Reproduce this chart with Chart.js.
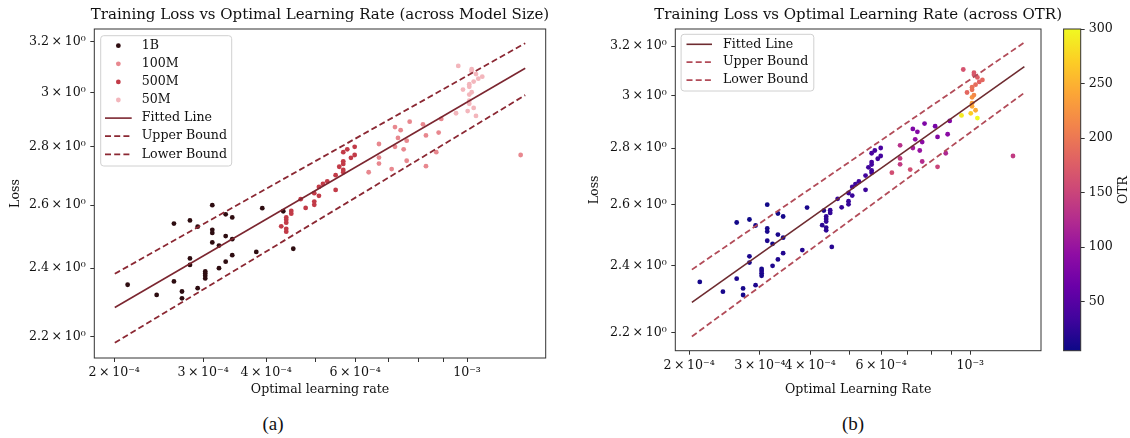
<!DOCTYPE html>
<html>
<head>
<meta charset="utf-8">
<script src="https://cdn.jsdelivr.net/npm/chart.js@4.4.0/dist/chart.umd.min.js"></script>
<style>
  body { margin: 0; background: #fff; }
  #wrap { position: relative; width: 1130px; height: 438px; overflow: hidden; }
  canvas { position: absolute; top: 0; }
  #lossBySize { left: 0; }
  #lossByOtr { left: 560px; }
  #otrBar { left: 1045px; }
  .caption { position: absolute; top: 413px; width: 60px; text-align: center;
             font-family: "Liberation Serif", serif; font-size: 19px; color: #111; }
</style>
</head>
<body>
<div id="wrap">
  <canvas id="lossBySize" width="560" height="400"></canvas>
  <canvas id="lossByOtr" width="570" height="400"></canvas>
  <canvas id="otrBar" width="85" height="400"></canvas>
  <div class="caption" style="left:243px">(a)</div>
  <div class="caption" style="left:823px">(b)</div>
</div>
<script>
// runs grouped by model size: optimal learning rate, final loss, OTR
const lr1B = [2.126e-4, 2.427e-4, 2.626e-4, 2.626e-4, 2.724e-4, 2.724e-4, 2.825e-4, 2.825e-4, 2.825e-4,
  2.926e-4, 2.926e-4, 3.029e-4, 3.029e-4, 3.029e-4, 3.029e-4, 3.128e-4, 3.128e-4, 3.128e-4, 3.128e-4,
  3.225e-4, 3.225e-4, 3.325e-4, 3.325e-4, 3.325e-4, 3.426e-4, 3.426e-4, 3.426e-4, 3.823e-4, 3.929e-4,
  4.324e-4, 4.526e-4];
const loss1B = [2.35, 2.32, 2.54, 2.36, 2.33, 2.31, 2.55, 2.43, 2.41,
  2.53, 2.34, 2.39, 2.384, 2.377, 2.369, 2.60, 2.52, 2.51, 2.48,
  2.47, 2.40, 2.57, 2.50, 2.42, 2.56, 2.49, 2.44, 2.45, 2.59,
  2.58, 2.46];
const otr1B = [10, 12, 8, 14, 11, 9, 5, 13, 12,
  10, 15, 12, 14, 16, 11, 7, 10, 12, 14,
  9, 15, 8, 13, 16, 10, 14, 17, 18, 12,
  15, 20];

const lr500M = [4.284e-4, 4.383e-4, 4.383e-4, 4.383e-4, 4.383e-4, 4.383e-4, 4.485e-4, 4.485e-4,
  4.681e-4, 4.789e-4, 4.981e-4, 4.981e-4, 4.981e-4, 5.088e-4, 5.088e-4, 5.182e-4, 5.285e-4,
  5.491e-4, 5.491e-4, 5.582e-4, 5.685e-4, 5.685e-4, 5.685e-4, 5.685e-4, 5.685e-4, 5.790e-4,
  5.888e-4, 5.989e-4, 5.989e-4];
const loss500M = [2.531, 2.560, 2.552, 2.543, 2.523, 2.514, 2.581, 2.572,
  2.620, 2.591, 2.640, 2.612, 2.601, 2.661, 2.631, 2.671, 2.680,
  2.701, 2.651, 2.730, 2.749, 2.740, 2.719, 2.711, 2.781, 2.791,
  2.761, 2.800, 2.771];
const otr500M = [22, 25, 24, 26, 22, 23, 28, 26,
  30, 27, 32, 29, 28, 34, 30, 33, 35,
  36, 31, 34, 38, 36, 33, 32, 40, 38,
  35, 40, 37];

const lr100M = [6.384e-4, 6.691e-4, 6.691e-4, 6.691e-4, 7.090e-4, 7.198e-4, 7.198e-4, 7.297e-4,
  7.387e-4, 7.489e-4, 7.593e-4, 7.593e-4, 7.697e-4, 8.178e-4, 8.291e-4, 8.291e-4, 8.690e-4,
  8.785e-4, 8.890e-4, 1.277e-3];
const loss100M = [2.711, 2.810, 2.762, 2.741, 2.722, 2.871, 2.800, 2.832,
  2.860, 2.791, 2.822, 2.751, 2.891, 2.881, 2.841, 2.732, 2.781,
  2.851, 2.901, 2.771];
const otr100M = [160, 130, 140, 140, 160, 80, 110, 95,
  85, 100, 90, 125, 80, 75, 85, 150, 120,
  90, 85, 140];

const lr50M = [9.51e-4, 9.607e-4, 9.816e-4, 1.0028e-3, 1.0102e-3, 1.0102e-3, 1.0102e-3, 1.0102e-3,
  1.0102e-3, 1.0213e-3, 1.0213e-3, 1.0213e-3, 1.0307e-3, 1.0307e-3, 1.0416e-3, 1.0416e-3,
  1.0526e-3, 1.0719e-3];
const loss50M = [2.922, 3.103, 3.011, 2.930, 3.032, 3.022, 2.992, 2.969,
  2.957, 3.090, 3.082, 3.001, 3.042, 2.942, 3.071, 2.912,
  3.053, 3.061];
const otr50M = [290, 165, 185, 270, 195, 195, 225, 235,
  240, 170, 170, 215, 190, 245, 175, 300,
  180, 185];

// fitted power law and +/-0.1 band, end points of each line
const fitLrA = [2.005e-4, 1.304e-3];
const fitLossA = [2.283, 3.094];
const upperLossA = [2.383, 3.194];
const lowerLossA = [2.183, 2.99];
const fitLrB = [2.032e-4, 1.363e-3];
const fitLossB = [2.288, 3.115];
const upperLossB = [2.388, 3.215];
const lowerLossB = [2.188, 3.01];

// ticks
const TS = '\u2009';
const lrTicks = [2e-4, 3e-4, 4e-4, 5e-4, 6e-4, 7e-4, 8e-4, 9e-4, 1e-3];
const lrTickLabels = ['2' + TS + '×' + TS + '10⁻⁴', '3' + TS + '×' + TS + '10⁻⁴', '4' + TS + '×' + TS + '10⁻⁴', '',
  '6' + TS + '×' + TS + '10⁻⁴', '', '', '', '10⁻³'];
const lossTicks = [2.2, 2.4, 2.6, 2.8, 3.0, 3.2];
const lossTickLabels = ['2.2', '2.4', '2.6', '2.8', '3', '3.2'].map(s => s + TS + '×' + TS + '10⁰');
const otrTicks = [50, 100, 150, 200, 250, 300];
const otrMin = 5;
const otrMax = 300;

const SERIF = '"DejaVu Serif", serif';
const INK = '#111';

const plasmaStops = ['#0d0887', '#41049d', '#6a00a8', '#8f0da4', '#b12a90', '#cc4778',
  '#e16462', '#f2844b', '#fca636', '#fcce25', '#f0f921'];

function hexRgb(h) {
  return [1, 3, 5].map(i => parseInt(h.slice(i, i + 2), 16));
}

function plasma(v) {
  let t = (v - otrMin) / (otrMax - otrMin);
  t = Math.min(1, Math.max(0, t)) * (plasmaStops.length - 1);
  const i = Math.min(Math.floor(t), plasmaStops.length - 2);
  const f = t - i;
  const a = hexRgb(plasmaStops[i]), b = hexRgb(plasmaStops[i + 1]);
  const c = a.map((x, k) => Math.round(x + (b[k] - x) * f));
  return `rgb(${c[0]},${c[1]},${c[2]})`;
}

const pts = (xs, ys) => xs.map((x, i) => ({x, y: ys[i]}));

// frame, title and boxed legend drawn on top of each panel
const panelDecor = {
  id: 'panelDecor',
  afterDraw(chart, args, opts) {
    const {ctx, chartArea: a} = chart;
    ctx.save();
    ctx.strokeStyle = '#333';
    ctx.lineWidth = 1;
    ctx.strokeRect(a.left, a.top, a.right - a.left, a.bottom - a.top);

    if (opts.title) {
      ctx.fillStyle = INK;
      ctx.font = '15px ' + SERIF;
      ctx.textAlign = 'center';
      ctx.textBaseline = 'middle';
      ctx.fillText(opts.title, (a.left + a.right) / 2, opts.titleY);
    }

    const lg = opts.legend;
    if (lg) {
      const x0 = a.left + lg.dx, y0 = a.top + lg.dy, r = 3;
      ctx.beginPath();
      ctx.moveTo(x0 + r, y0);
      ctx.arcTo(x0 + lg.w, y0, x0 + lg.w, y0 + lg.h, r);
      ctx.arcTo(x0 + lg.w, y0 + lg.h, x0, y0 + lg.h, r);
      ctx.arcTo(x0, y0 + lg.h, x0, y0, r);
      ctx.arcTo(x0, y0, x0 + lg.w, y0, r);
      ctx.closePath();
      ctx.fillStyle = 'rgba(255,255,255,0.8)';
      ctx.fill();
      ctx.strokeStyle = '#d0d0d0';
      ctx.stroke();

      const items = chart.data.datasets.filter(d => d.inLegend);
      items.forEach((d, i) => {
        const y = y0 + lg.row0 + i * lg.rowH;
        if (d.showLine) {
          ctx.strokeStyle = d.borderColor;
          ctx.lineWidth = d.borderWidth;
          ctx.setLineDash(d.borderDash || []);
          ctx.beginPath();
          ctx.moveTo(x0 + lg.hx0, y);
          ctx.lineTo(x0 + lg.hx1, y);
          ctx.stroke();
          ctx.setLineDash([]);
        } else {
          ctx.fillStyle = d.backgroundColor;
          ctx.beginPath();
          ctx.arc(x0 + (lg.hx0 + lg.hx1) / 2, y, d.pointRadius, 0, Math.PI * 2);
          ctx.fill();
        }
        ctx.fillStyle = INK;
        ctx.font = '12.6px ' + SERIF;
        ctx.textAlign = 'left';
        ctx.textBaseline = 'middle';
        ctx.fillText(d.label, x0 + lg.tx, y);
      });
    }

    if (opts.sideLabel) {
      ctx.translate(opts.sideLabel.x, opts.sideLabel.y);
      ctx.rotate(-Math.PI / 2);
      ctx.fillStyle = INK;
      ctx.font = '12.6px ' + SERIF;
      ctx.textAlign = 'center';
      ctx.textBaseline = 'middle';
      ctx.fillText(opts.sideLabel.text, 0, 0);
    }
    ctx.restore();
  }
};

function panelScales(p) {
  const tickFont = {family: SERIF, size: 12.6};
  const grid = {drawOnChartArea: false, drawTicks: true, tickLength: 4, color: '#333'};
  return {
    x: {
      type: 'logarithmic', position: 'bottom', bounds: 'data', min: p.xMin, max: p.xMax,
      afterBuildTicks: s => { s.ticks = lrTicks.map(v => ({value: v})); },
      afterFit: s => { s.height = p.xHeight; },
      border: {display: false},
      grid,
      ticks: {autoSkip: false, minRotation: 0, maxRotation: 0, padding: 3, color: INK, font: tickFont,
        callback: v => lrTickLabels[lrTicks.indexOf(v)] || ''},
      title: {display: true, text: p.xTitle, color: INK, font: tickFont, padding: {top: 0, bottom: 3}}
    },
    y: {
      type: 'logarithmic', position: 'left', bounds: 'data', min: p.yMin, max: p.yMax,
      afterBuildTicks: s => { s.ticks = lossTicks.map(v => ({value: v})); },
      afterFit: s => { s.width = p.yWidth; },
      border: {display: false},
      grid,
      ticks: {autoSkip: false, padding: 4.6, color: INK, font: tickFont,
        callback: v => lossTickLabels[lossTicks.indexOf(v)] || ''},
      title: {display: true, text: 'Loss', color: INK, font: tickFont, padding: {top: p.yTitlePad, bottom: 0}}
    }
  };
}

function lineSet(label, xs, ys, color, dash, width) {
  return {
    label, data: pts(xs, ys), showLine: true, borderColor: color, borderWidth: width,
    borderDash: dash, pointRadius: 0, inLegend: true, order: 0
  };
}

const baseOptions = {
  responsive: false, animation: false, devicePixelRatio: 1, events: []
};

// (a) coloured by model size
const sizeGroups = [
  ['1B', lr1B, loss1B, '#2e0d11'],
  ['100M', lr100M, loss100M, '#e8888f'],
  ['500M', lr500M, loss500M, '#c23b48'],
  ['50M', lr50M, loss50M, '#f3b6bc']
];

new Chart(document.getElementById('lossBySize'), {
  type: 'scatter',
  data: {
    datasets: [
      ...sizeGroups.map(([label, xs, ys, color], i) => ({
        label, data: pts(xs, ys), backgroundColor: color, pointRadius: 2.4,
        pointBorderWidth: 0, inLegend: true, order: 10 - i
      })),
      lineSet('Fitted Line', fitLrA, fitLossA, '#7b2630', [], 1.6),
      lineSet('Upper Bound', fitLrA, upperLossA, '#8b2833', [6, 3.2], 1.8),
      lineSet('Lower Bound', fitLrA, lowerLossA, '#8b2833', [6, 3.2], 1.8)
    ]
  },
  options: {
    ...baseOptions,
    layout: {padding: {left: 0, top: 29, right: 14.3, bottom: 0}},
    scales: panelScales({xMin: 1.826e-4, xMax: 1.4316e-3, yMin: 2.1413, yMax: 3.252,
      xHeight: 42, yWidth: 94.3, yTitlePad: 8.4, xTitle: 'Optimal learning rate'}),
    plugins: {
      legend: {display: false}, tooltip: {enabled: false},
      panelDecor: {
        title: 'Training Loss vs Optimal Learning Rate (across Model Size)', titleY: 15,
        legend: {dx: 6.4, dy: 6.7, w: 131, h: 130.3, row0: 10, rowH: 18.1, hx0: 4.3, hx1: 31, tx: 41}
      }
    }
  },
  plugins: [panelDecor]
});

// (b) coloured by OTR
const allLr = [...lr1B, ...lr100M, ...lr500M, ...lr50M];
const allLoss = [...loss1B, ...loss100M, ...loss500M, ...loss50M];
const allOtr = [...otr1B, ...otr100M, ...otr500M, ...otr50M];

new Chart(document.getElementById('lossByOtr'), {
  type: 'scatter',
  data: {
    datasets: [
      {
        label: 'runs', data: pts(allLr, allLoss), backgroundColor: allOtr.map(plasma),
        pointRadius: 2.4, pointBorderWidth: 0, order: 5
      },
      lineSet('Fitted Line', fitLrB, fitLossB, '#6e2b30', [], 1.6),
      lineSet('Upper Bound', fitLrB, upperLossB, '#b24c59', [6, 3.2], 1.8),
      lineSet('Lower Bound', fitLrB, lowerLossB, '#b24c59', [6, 3.2], 1.8)
    ]
  },
  options: {
    ...baseOptions,
    layout: {padding: {left: 0, top: 29, right: 89, bottom: 0}},
    scales: panelScales({xMin: 1.848e-4, xMax: 1.499e-3, yMin: 2.1476, yMax: 3.272,
      xHeight: 49.3, yWidth: 115.3, yTitlePad: 27, xTitle: 'Optimal Learning Rate'}),
    plugins: {
      legend: {display: false}, tooltip: {enabled: false},
      panelDecor: {
        title: 'Training Loss vs Optimal Learning Rate (across OTR)', titleY: 15,
        legend: {dx: 5.8, dy: 5.3, w: 132.7, h: 56.7, row0: 10, rowH: 17.9, hx0: 5.4, hx1: 30.9, tx: 41.8}
      }
    }
  },
  plugins: [panelDecor]
});

// colour bar: one floating bar over the OTR range, filled with the plasma ramp
function plasmaFill(chart) {
  const a = chart.chartArea;
  if (!a) return plasmaStops[0];
  const g = chart.ctx.createLinearGradient(0, a.bottom, 0, a.top);
  plasmaStops.forEach((c, i) => g.addColorStop(i / (plasmaStops.length - 1), c));
  return g;
}

new Chart(document.getElementById('otrBar'), {
  type: 'bar',
  data: {
    labels: ['OTR'],
    datasets: [{
      data: [[otrMin, otrMax]], backgroundColor: ctx => plasmaFill(ctx.chart),
      barPercentage: 1, categoryPercentage: 1, borderWidth: 0
    }]
  },
  options: {
    ...baseOptions,
    layout: {padding: {left: 18.6, top: 29, right: 0, bottom: 49.3}},
    scales: {
      x: {display: false},
      y: {
        position: 'right', min: otrMin, max: otrMax,
        afterBuildTicks: s => { s.ticks = otrTicks.map(v => ({value: v})); },
        afterFit: s => { s.width = 49.3; },
        border: {display: false},
        grid: {drawOnChartArea: false, drawTicks: true, tickLength: 4, color: '#333'},
        ticks: {autoSkip: false, padding: 4, color: INK, font: {family: SERIF, size: 12.6}}
      }
    },
    plugins: {
      legend: {display: false}, tooltip: {enabled: false},
      panelDecor: {sideLabel: {text: 'OTR', x: 78.6, y: 190}}
    }
  },
  plugins: [panelDecor]
});
</script>
</body>
</html>
